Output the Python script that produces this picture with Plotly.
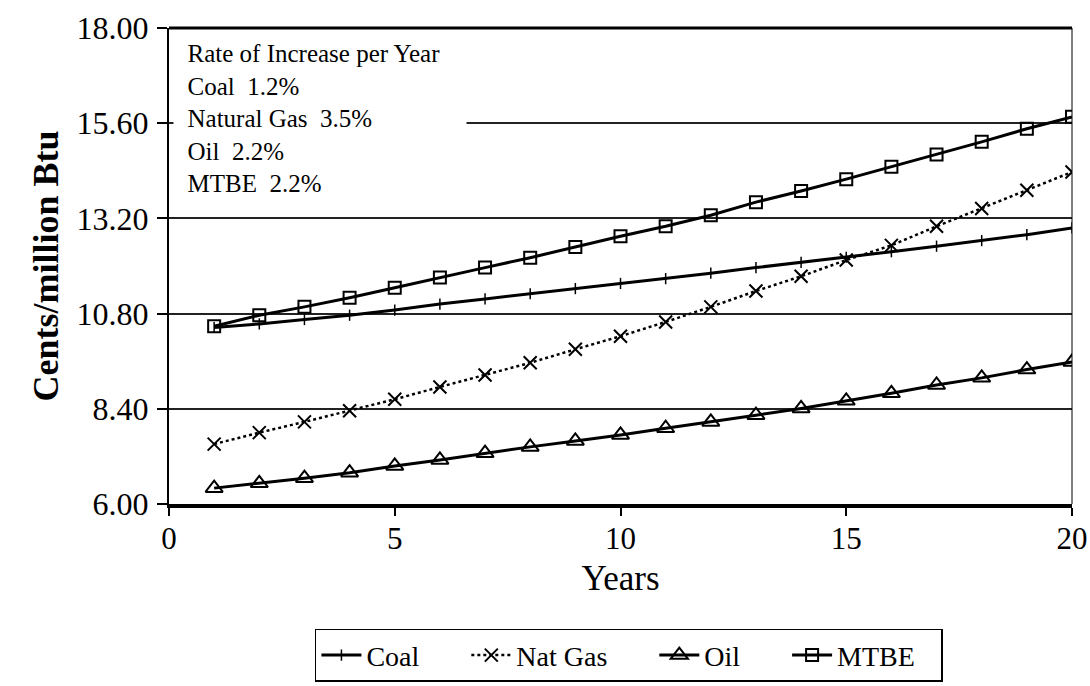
import plotly.graph_objects as go

years = list(range(1, 21))
coal = [10.45, 10.54, 10.65, 10.76, 10.89, 11.04, 11.17, 11.30, 11.43, 11.56,
        11.68, 11.82, 11.96, 12.09, 12.22, 12.36, 12.50, 12.64, 12.79, 12.96]
nat_gas = [7.51, 7.80, 8.07, 8.35, 8.64, 8.95, 9.25, 9.56, 9.90, 10.23,
           10.59, 10.97, 11.37, 11.74, 12.15, 12.52, 13.00, 13.45, 13.91, 14.37]
oil = [6.40, 6.52, 6.65, 6.79, 6.96, 7.11, 7.28, 7.44, 7.59, 7.74,
       7.91, 8.07, 8.24, 8.41, 8.60, 8.79, 9.00, 9.18, 9.39, 9.58]
mtbe = [10.48, 10.76, 10.97, 11.20, 11.45, 11.71, 11.96, 12.21, 12.48, 12.75,
        13.00, 13.28, 13.61, 13.89, 14.19, 14.50, 14.81, 15.13, 15.46, 15.76]

y_ticks = [6.00, 8.40, 10.80, 13.20, 15.60, 18.00]
x_ticks = [0, 5, 10, 15, 20]
rate_lines = ["Rate of Increase per Year", "Coal  1.2%", "Natural Gas  3.5%",
              "Oil  2.2%", "MTBE  2.2%"]

SERIF = "Liberation Serif, Times New Roman, serif"
PAD = "&nbsp;&nbsp;"
SP = "&nbsp;"

fig = go.Figure()
fig.add_trace(go.Scatter(x=years, y=coal, name="Coal" + SP * 6, mode="lines+markers",
                         line=dict(color="black", width=3),
                         marker=dict(symbol="line-ns", size=8, line=dict(color="black", width=1.5))))
fig.add_trace(go.Scatter(x=years, y=nat_gas, name="Nat Gas" + SP * 6, mode="lines+markers",
                         line=dict(color="black", width=2.5, dash="dot"),
                         marker=dict(symbol="x-thin", size=13, line=dict(color="black", width=2))))
fig.add_trace(go.Scatter(x=years, y=oil, name="Oil" + SP * 6, mode="lines+markers",
                         line=dict(color="black", width=3),
                         marker=dict(symbol="triangle-up-open", size=15, color="black",
                                     line=dict(color="black", width=2))))
fig.add_trace(go.Scatter(x=years, y=mtbe, name="MTBE" + SP * 3, mode="lines+markers",
                         line=dict(color="black", width=3),
                         marker=dict(symbol="square-open", size=12, color="black",
                                     line=dict(color="black", width=2))))

fig.update_layout(
    width=1090, height=686,
    margin=dict(l=169, r=18, t=28, b=182),
    paper_bgcolor="white", plot_bgcolor="white",
    font=dict(family=SERIF, color="black"),
    showlegend=True,
    legend=dict(orientation="h", xref="container", yref="container",
                x=0.577, y=0.006, xanchor="center", yanchor="bottom",
                bordercolor="black", borderwidth=1.5, bgcolor="white",
                font=dict(family=SERIF, size=28, color="black"),
                itemwidth=40, tracegroupgap=0),
    xaxis=dict(range=[0, 20], tickvals=x_ticks, ticktext=[str(v) for v in x_ticks],
               automargin=False,
               showgrid=False, zeroline=False, showline=True, linecolor="black", linewidth=3.5,
               ticks="outside", ticklen=8, tickwidth=1.5, tickcolor="black",
               ticklabelstandoff=-4,
               tickfont=dict(family=SERIF, size=31, color="black"),
               title=dict(text="Years", font=dict(family=SERIF, size=35, color="black"), standoff=12)),
    yaxis=dict(range=[6, 18], tickvals=y_ticks, ticktext=[f"{v:.2f}" for v in y_ticks],
               automargin=False,
               showgrid=True, gridcolor="#222", gridwidth=1.5, zeroline=False,
               showline=True, linecolor="black", linewidth=2,
               ticks="outside", ticklen=10, tickwidth=1.5, tickcolor="black",
               ticklabelstandoff=2,
               tickfont=dict(family=SERIF, size=32, color="black"),
               title=dict(text="<b>Cents/million Btu</b>", font=dict(family=SERIF, size=36, color="black"),
                          standoff=7)),
)

# top and right frame lines
fig.add_shape(type="line", xref="paper", yref="paper", x0=0, x1=1, y0=1, y1=1,
              line=dict(color="black", width=3))
fig.add_shape(type="line", xref="paper", yref="paper", x0=1, x1=1, y0=0, y1=1,
              line=dict(color="black", width=1))

fig.add_annotation(xref="paper", yref="paper", x=0.004, y=0.98, xanchor="left", yanchor="top",
                   text="<br>".join(PAD + s for s in rate_lines), showarrow=False, align="left",
                   bgcolor="white", width=290, height=165, valign="top",
                   font=dict(family=SERIF, size=25, color="black"))

fig.write_html("out.html", config={"displayModeBar": False},
               post_script="document.body.style.margin='0';")
